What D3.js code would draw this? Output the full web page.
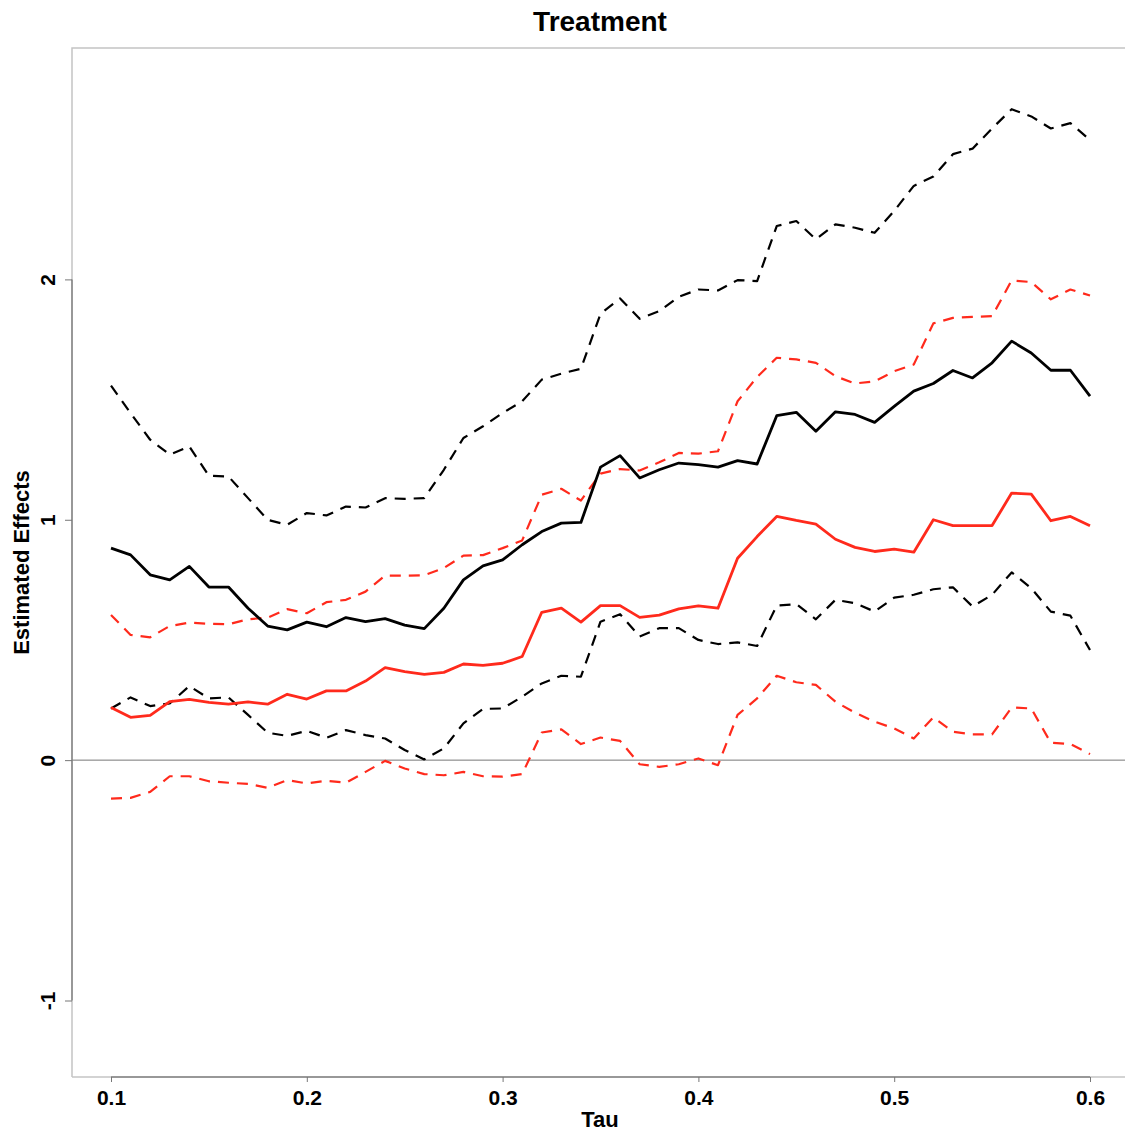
<!DOCTYPE html>
<html>
<head>
<meta charset="utf-8">
<script src="https://cdn.jsdelivr.net/npm/d3@7"></script>
<style>
  body { margin: 0; background: #fff; }
  svg { display: block; font-family: "Liberation Sans", Arial, sans-serif; }
</style>
</head>
<body>
<svg id="chart"></svg>
<script>
let tau = [0.10, 0.11, 0.12, 0.13, 0.14, 0.15, 0.16, 0.17, 0.18, 0.19,
    0.20, 0.21, 0.22, 0.23, 0.24, 0.25, 0.26, 0.27, 0.28, 0.29,
    0.30, 0.31, 0.32, 0.33, 0.34, 0.35, 0.36, 0.37, 0.38, 0.39,
    0.40, 0.41, 0.42, 0.43, 0.44, 0.45, 0.46, 0.47, 0.48, 0.49,
    0.50, 0.51, 0.52, 0.53, 0.54, 0.55, 0.56, 0.57, 0.58, 0.59, 0.60]

let blackEst = [0.882, 0.854, 0.771, 0.750, 0.806, 0.720, 0.720, 0.632, 0.558, 0.542,
    0.574, 0.555, 0.593, 0.576, 0.589, 0.562, 0.547, 0.632, 0.750, 0.808,
    0.833, 0.896, 0.951, 0.986, 0.989, 1.219, 1.267, 1.174, 1.208, 1.236,
    1.229, 1.219, 1.246, 1.232, 1.433, 1.447, 1.368, 1.449, 1.438, 1.405,
    1.472, 1.535, 1.567, 1.621, 1.590, 1.653, 1.743, 1.694, 1.622, 1.622, 1.514]

let blackUpper = [1.558, 1.444, 1.333, 1.271, 1.305, 1.183, 1.180, 1.090, 1.000, 0.979,
    1.028, 1.018, 1.055, 1.051, 1.090, 1.087, 1.090, 1.208, 1.340, 1.389,
    1.444, 1.493, 1.583, 1.608, 1.628, 1.857, 1.921, 1.836, 1.868, 1.928,
    1.958, 1.954, 1.997, 1.993, 2.222, 2.243, 2.167, 2.229, 2.215, 2.194,
    2.285, 2.389, 2.428, 2.521, 2.544, 2.628, 2.708, 2.678, 2.628, 2.650, 2.580]

let blackLower = [0.215, 0.261, 0.225, 0.236, 0.308, 0.257, 0.261, 0.188, 0.114, 0.101,
    0.122, 0.093, 0.125, 0.104, 0.090, 0.042, 0.003, 0.049, 0.153, 0.213,
    0.215, 0.264, 0.319, 0.351, 0.347, 0.576, 0.607, 0.514, 0.549, 0.549,
    0.500, 0.483, 0.490, 0.475, 0.643, 0.649, 0.586, 0.667, 0.653, 0.618,
    0.676, 0.688, 0.711, 0.719, 0.639, 0.688, 0.781, 0.715, 0.618, 0.601, 0.458]

let redEst = [0.219, 0.178, 0.186, 0.243, 0.253, 0.240, 0.233, 0.242, 0.233, 0.274,
    0.254, 0.288, 0.288, 0.329, 0.385, 0.368, 0.357, 0.365, 0.400, 0.394,
    0.403, 0.431, 0.615, 0.632, 0.574, 0.643, 0.643, 0.594, 0.603, 0.629,
    0.642, 0.632, 0.840, 0.930, 1.014, 0.997, 0.982, 0.919, 0.885, 0.868,
    0.878, 0.865, 1.000, 0.976, 0.976, 0.976, 1.111, 1.107, 0.996, 1.014, 0.975]

let redUpper = [0.604, 0.521, 0.511, 0.558, 0.572, 0.567, 0.565, 0.586, 0.593, 0.628,
    0.611, 0.657, 0.667, 0.701, 0.768, 0.767, 0.769, 0.799, 0.851, 0.853,
    0.882, 0.914, 1.104, 1.129, 1.080, 1.192, 1.211, 1.205, 1.239, 1.278,
    1.275, 1.285, 1.493, 1.594, 1.674, 1.667, 1.653, 1.597, 1.567, 1.576,
    1.618, 1.646, 1.817, 1.840, 1.844, 1.847, 1.996, 1.989, 1.917, 1.958, 1.933]

let redLower = [-0.160, -0.157, -0.132, -0.067, -0.067, -0.088, -0.094, -0.099, -0.115, -0.083,
    -0.097, -0.086, -0.094, -0.049, -0.003, -0.035, -0.058, -0.063, -0.049, -0.067,
    -0.069, -0.058, 0.115, 0.128, 0.067, 0.094, 0.080, -0.017, -0.028, -0.017,
    0.007, -0.021, 0.188, 0.257, 0.351, 0.324, 0.313, 0.243, 0.197, 0.160,
    0.132, 0.090, 0.178, 0.118, 0.107, 0.107, 0.219, 0.215, 0.072, 0.067, 0.025]

let xTicks = [0.1, 0.2, 0.3, 0.4, 0.5, 0.6]
let yTicks = [-1, 0, 1, 2]

let series = [
    { values: blackUpper, color: '#000', dashed: true },
    { values: blackLower, color: '#000', dashed: true },
    { values: redUpper, color: '#ff2a1c', dashed: true },
    { values: redLower, color: '#ff2a1c', dashed: true },
    { values: blackEst, color: '#000', dashed: false },
    { values: redEst, color: '#ff2a1c', dashed: false },
]

let opts = {
    width: 1125,
    height: 1133,
    left: 72,
    right: 1128,
    top: 48,
    bottom: 1077,
}

let svg = d3.select('#chart')
    .attr('width', opts.width)
    .attr('height', opts.height)

let x = d3.scaleLinear().domain([0.1, 0.6]).range([111, 1090])
let y = d3.scaleLinear().domain([-1, 2]).range([1000.5, 279.4])

// light box round the plot region
svg.append('path')
    .attr('d', `M${opts.left},${opts.bottom}V${opts.top}H${opts.right}`)
    .attr('fill', 'none')
    .attr('stroke', '#c4c4c4')
    .attr('stroke-width', 1.5)
svg.append('line')
    .attr('x1', opts.left).attr('x2', opts.right)
    .attr('y1', opts.bottom).attr('y2', opts.bottom)
    .attr('stroke', '#c4c4c4')
    .attr('stroke-width', 1.5)

// zero reference line
svg.append('line')
    .attr('x1', opts.left).attr('x2', opts.right)
    .attr('y1', y(0)).attr('y2', y(0))
    .attr('stroke', '#777')
    .attr('stroke-width', 1)

// axes
let xAxis = svg.append('g')
    .attr('transform', `translate(0,${opts.bottom})`)
    .call(d3.axisBottom(x).tickValues(xTicks).tickSize(5).tickPadding(8)
        .tickFormat(d3.format('.1f')))
let yAxis = svg.append('g')
    .attr('transform', `translate(${opts.left},0)`)
    .call(d3.axisLeft(y).tickValues(yTicks).tickSize(7).tickPadding(9)
        .tickFormat(d => d))

for (let ax of [xAxis, yAxis]) {
    ax.select('.domain').attr('stroke', '#858585').attr('stroke-width', 1.5)
    ax.selectAll('.tick line').attr('stroke', '#777').attr('stroke-width', 1)
    ax.selectAll('.tick text')
        .attr('fill', '#000')
        .attr('font-size', 21)
        .attr('font-weight', 'bold')
        .attr('font-family', '"Liberation Sans", Arial, sans-serif')
}
xAxis.select('.domain').attr('d', `M${x(0.1)},0H${x(0.6)}`)
yAxis.select('.domain').attr('d', `M0,${y(-1)}V${y(2)}`)

// rotate y tick labels like R's default las=0
yAxis.selectAll('.tick text')
    .attr('x', null).attr('dy', null)
    .attr('text-anchor', 'middle')
    .attr('transform', 'translate(-17,0) rotate(-90)')

// lines
let line = d3.line()
    .x((d, i) => x(tau[i]))
    .y(d => y(d))

svg.selectAll('path.series')
    .data(series)
    .enter().append('path')
    .attr('class', 'series')
    .attr('d', d => line(d.values))
    .attr('fill', 'none')
    .attr('stroke', d => d.color)
    .attr('stroke-width', d => d.dashed ? 2.2 : 2.8)
    .attr('stroke-dasharray', d => d.dashed ? '11,8' : null)
    .attr('stroke-linejoin', 'round')

// titles
svg.append('text')
    .attr('x', 600).attr('y', 31)
    .attr('text-anchor', 'middle')
    .attr('font-size', 28)
    .attr('font-weight', 'bold')
    .text('Treatment')

svg.append('text')
    .attr('x', 600).attr('y', 1127)
    .attr('text-anchor', 'middle')
    .attr('font-size', 22)
    .attr('font-weight', 'bold')
    .text('Tau')

svg.append('text')
    .attr('transform', `translate(29,${(opts.top + opts.bottom) / 2}) rotate(-90)`)
    .attr('text-anchor', 'middle')
    .attr('font-size', 22)
    .attr('font-weight', 'bold')
    .text('Estimated Effects')
</script>
</body>
</html>
